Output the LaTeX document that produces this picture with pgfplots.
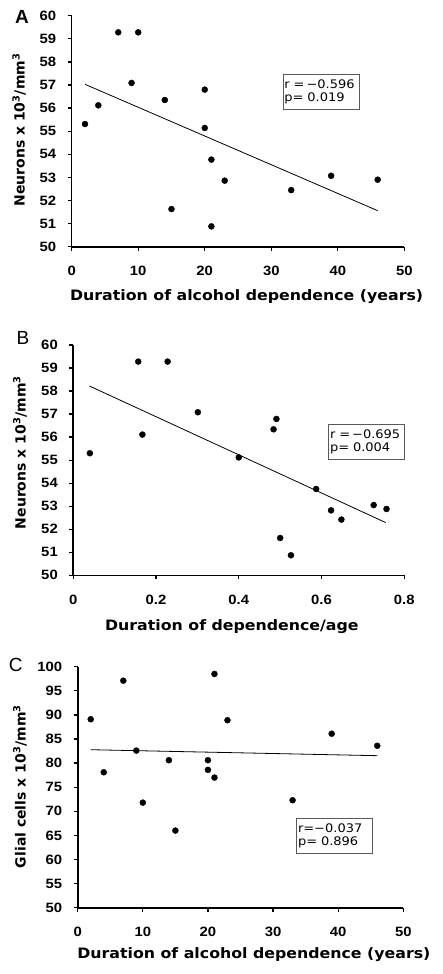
\documentclass[border=0pt]{standalone}
\usepackage{fontspec}
\setmainfont{DejaVu Sans}
\newfontfamily\lblfont[FakeStretch=1.1]{DejaVu Sans}
\newfontfamily\tickfont[FakeStretch=1.1]{Liberation Sans}
\newfontfamily\letterfont{Liberation Sans}
\usepackage{pgfplots}
\pgfplotsset{compat=1.18}
\pgfplotsset{
  panel/.style={
    scale only axis,
    axis lines*=left,
    axis line style={line width=1.6pt},
    tick align=outside,
    major tick length=4pt,
    every tick/.style={black, line width=1.3pt},
    tick label style={font=\tickfont\bfseries\fontsize{13.5}{13.5}\selectfont},
    yticklabel style={xshift=-8pt},
    xticklabel style={yshift=-12pt},
    /pgf/number format/assume math mode=true,
    xlabel style={font=\lblfont\bfseries\fontsize{14.35}{16}\selectfont, anchor=center},
    ylabel style={font=\bfseries\fontsize{14}{16}\selectfont, anchor=center},
    clip=false,
  },
  pts/.style={only marks, mark=*, mark size=3pt, black},
  fit/.style={black, line width=0.8pt, no marks},
}
\tikzset{
  statbox/.style={draw=black!65, line width=0.7pt, anchor=north west, inner xsep=1.5pt, inner ysep=0pt,
    align=left, text width=73pt, minimum height=35.3pt, font=\lblfont\fontsize{11.8}{13.5}\selectfont},
}
\begin{document}
\begin{tikzpicture}
\useasboundingbox (0,0) rectangle (442pt,-974pt);
% Panel A
\begin{axis}[panel, at={(71.7pt,-246.7pt)}, anchor=south west, width=332.6pt, height=231pt,
  xmin=0, xmax=50, ymin=50, ymax=60, xtick={0,10,...,50}, ytick={50,51,...,60},
  xlabel={Duration of alcohol dependence (years)},
  xlabel style={at={(axis description cs:0.526,-0.2165)}},
  ylabel={Neurons x 10\textsuperscript{3}/mm\textsuperscript{3}},
  ylabel style={at={(axis description cs:-0.158,0.505)}}]
\addplot[pts] coordinates {(2,55.31) (4,56.12) (7,59.28) (10,59.28) (9,57.09) (14,56.35) (15,51.63)
  (20,56.8) (20,55.14) (21,53.77) (21,50.88) (23,52.86) (33,52.45) (39,53.07) (46,52.9)};
\addplot[fit] coordinates {(2,57.03) (46,51.56)};
\node[statbox] at (rel axis cs:0.634,0.748) {r =\,−0.596\\p= 0.019};
\end{axis}
% Panel B
\begin{axis}[panel, at={(73.3pt,-575.3pt)}, anchor=south west, width=331pt, height=230.3pt,
  xmin=0, xmax=0.8, ymin=50, ymax=60, xtick={0,0.2,0.4,0.6,0.8}, ytick={50,51,...,60},
  xlabel={Duration of dependence/age},
  xlabel style={at={(axis description cs:0.479,-0.223)}},
  ylabel={Neurons x 10\textsuperscript{3}/mm\textsuperscript{3}},
  ylabel style={at={(axis description cs:-0.161,0.533)}}]
\addplot[pts] coordinates {(0.040,55.30) (0.157,59.28) (0.167,56.11) (0.228,59.28) (0.301,57.08)
  (0.400,55.12) (0.484,56.34) (0.491,56.79) (0.500,51.62) (0.526,50.87) (0.587,53.75)
  (0.623,52.82) (0.648,52.42) (0.726,53.05) (0.757,52.88)};
\addplot[fit] coordinates {(0.039,58.22) (0.755,52.29)};
\node[statbox] at (rel axis cs:0.770,0.657) {r =\,−0.695\\p= 0.004};
\end{axis}
% Panel C
\begin{axis}[panel, at={(77.7pt,-907.7pt)}, anchor=south west, width=325.6pt, height=241pt,
  xmin=0, xmax=50, ymin=50, ymax=100, xtick={0,10,...,50}, ytick={50,55,...,100},
  xlabel={Duration of alcohol dependence (years)},
  xlabel style={at={(axis description cs:0.541,-0.196)}},
  ylabel={Glial cells x 10\textsuperscript{3}/mm\textsuperscript{3}},
  ylabel style={at={(axis description cs:-0.177,0.503)}}]
\addplot[pts] coordinates {(2,89.1) (4,78.1) (7,97.1) (9,82.6) (10,71.8) (14,80.6) (15,66.0)
  (20,80.6) (20,78.6) (21,98.5) (21,77.0) (23,88.9) (33,72.3) (39,86.1) (46,83.6)};
\addplot[fit] coordinates {(2,82.78) (46,81.54)};
\node[statbox] at (rel axis cs:0.671,0.373) {r=−0.037\\p= 0.896};
\end{axis}
\node[font=\letterfont\bfseries\fontsize{19}{19}\selectfont] at (22pt,-17pt) {A};
\node[font=\letterfont\fontsize{19}{19}\selectfont] at (23pt,-337.5pt) {B};
\node[font=\letterfont\fontsize{19}{19}\selectfont] at (15.8pt,-665pt) {C};
\end{tikzpicture}
\end{document}
